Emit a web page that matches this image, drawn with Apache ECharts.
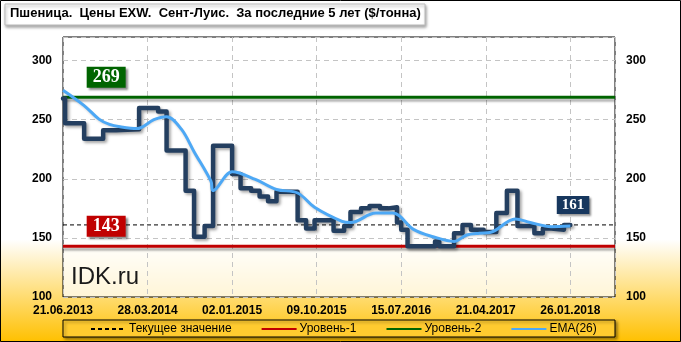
<!DOCTYPE html>
<html><head><meta charset="utf-8">
<script src="https://cdn.jsdelivr.net/npm/echarts@6/dist/echarts.min.js"></script>
<style>html,body{margin:0;padding:0;background:#fff}#c{width:681px;height:342px}</style>
</head><body><div id="c"></div>
<script>
const startDate = '2013-06-21';
const tickLabels = ['21.06.2013','28.03.2014','02.01.2015','09.10.2015','15.07.2016','21.04.2017','26.01.2018'];
const priceDates = ['2013-06-21','2013-06-28','2013-08-30','2013-11-01','2013-12-13','2014-02-28','2014-05-02','2014-05-30','2014-08-01','2014-08-29','2014-10-03','2014-10-31','2015-01-02','2015-01-30','2015-03-06','2015-04-03','2015-05-01','2015-05-29','2015-08-07','2015-09-04','2015-10-02','2015-12-04','2016-01-08','2016-01-29','2016-03-04','2016-04-01','2016-05-06','2016-06-03','2016-07-01','2016-07-15','2016-08-05','2016-11-04','2016-11-18','2017-01-06','2017-02-03','2017-03-03','2017-04-14','2017-05-26','2017-06-30','2017-08-04','2017-09-29','2017-10-27','2017-11-24','2018-01-05','2018-01-26'];
const prices = [268,247,234,241,242,260,257,224,190,151,160,228,204,192,190,185,181,189,165,158,165,156,160,172,175,177,175,176,163,157,143,147,143,154,161,157,155,171,190,160,154,158,157,161,161];
const emaDates = ['2013-06-21','2013-08-30','2013-10-18','2013-11-22','2013-12-27','2014-02-21','2014-04-18','2014-05-30','2014-07-18','2014-08-29','2014-10-24','2014-10-31','2015-01-02','2015-03-20','2015-05-29','2015-08-07','2015-10-02','2016-01-01','2016-01-29','2016-04-22','2016-06-17','2016-08-26','2016-10-28','2017-01-06','2017-02-17','2017-03-31','2017-05-05','2017-07-28','2017-09-15','2017-11-24','2018-01-26'];
const emaValues = [275,262,250.5,246,244,242.5,250,252.5,242,223,198,190,206,199.5,191,188,176,164,163,171,171,157,151,147,152.5,154,154.5,166,163,159.5,160];
const level1 = 143;
const level2 = 269;
const currentValue = 161;

const DAY = 86400000;
const dayOf = s => Math.round((Date.parse(s) - Date.parse(startDate)) / DAY);
const xMax = 1828;
const xStep = 280;

const priceData = priceDates.map((d, i) => [dayOf(d), prices[i]]);
const emaData = emaDates.map((d, i) => [dayOf(d), emaValues[i]]);
const flat = v => [[0, v], [xMax, v]];

const labelBox = (bg, size, pad) => ({
  show: true, position: 'inside', offset: [0, -20],
  color: '#fff', fontFamily: 'Liberation Serif', fontWeight: 'bold', fontSize: size,
  backgroundColor: bg, padding: pad,
  shadowColor: 'rgba(0,0,0,0.45)', shadowOffsetX: 2, shadowOffsetY: 2, shadowBlur: 2
});
const mp = (x, v, bg, size, pad) => ({
  symbol: 'rect', symbolSize: 1, silent: true,
  itemStyle: { color: 'rgba(0,0,0,0)' },
  label: labelBox(bg, size, pad),
  data: [{ coord: [x, v], value: v }]
});

const chart = echarts.init(document.getElementById('c'), null, { renderer: 'canvas' });
const axisFont = { fontFamily: 'Liberation Sans', fontWeight: 'bold', fontSize: 12, color: '#000' };
const yLbl = v => (v > 310 ? '' : String(v));
chart.setOption({
  animation: false,
  backgroundColor: { type: 'linear', x: 0, y: 0, x2: 0, y2: 1,
    colorStops: [{ offset: 0, color: '#ffffff' }, { offset: 0.7, color: '#ffffff' }, { offset: 1, color: '#FFC000' }] },
  grid: { left: 63, right: 66, top: 37, bottom: 45, show: true, borderColor: '#000', borderWidth: 1,
    backgroundColor: 'rgba(255,255,255,0.72)' },
  xAxis: {
    type: 'value', min: 0, max: xMax, interval: xStep,
    axisLine: { show: false }, axisTick: { show: false },
    axisLabel: Object.assign({ margin: 8, formatter: v => (v % xStep === 0 ? (tickLabels[v / xStep] || '') : '') }, axisFont),
    splitLine: { show: true, lineStyle: { color: '#C4C4C4', type: [5, 4], width: 1 } }
  },
  yAxis: [
    { type: 'value', min: 100, max: 320, interval: 50, position: 'left',
      axisLine: { show: false }, axisTick: { show: false },
      axisLabel: Object.assign({ margin: 11, formatter: yLbl }, axisFont),
      splitLine: { show: true, lineStyle: { color: '#C4C4C4', type: [5, 4], width: 1 } } },
    { type: 'value', min: 100, max: 320, interval: 50, position: 'right',
      axisLine: { show: false }, axisTick: { show: false },
      axisLabel: Object.assign({ margin: 11, formatter: yLbl }, axisFont),
      splitLine: { show: false } }
  ],
  legend: {
    left: 90, top: 323, padding: 0, itemWidth: 35, itemHeight: 10, itemGap: 29, z: 10,
    itemStyle: { opacity: 0 },
    textStyle: { fontFamily: 'Liberation Sans', fontSize: 12, color: '#000', padding: [0, 0, 0, -2] },
    data: ['Текущее значение', 'Уровень-1', 'Уровень-2', 'EMA(26)']
  },
  series: [
    { name: 'Уровень-1', type: 'line', data: flat(level1), symbol: 'none', z: 2,
      lineStyle: { color: '#C00000', width: 3, shadowColor: 'rgba(0,0,0,0.3)', shadowBlur: 2, shadowOffsetY: 3 },
      itemStyle: { color: '#C00000' },
      markPoint: mp(143, level1, '#C00000', 18, [2, 6, 1, 6]) },
    { name: 'Уровень-2', type: 'line', data: flat(level2), symbol: 'none', z: 2,
      lineStyle: { color: '#006400', width: 3, shadowColor: 'rgba(0,0,0,0.3)', shadowBlur: 2, shadowOffsetY: 3 },
      itemStyle: { color: '#006400' },
      markPoint: mp(143, level2, '#006400', 18, [2, 6, 1, 6]) },
    { name: 'Текущее значение', type: 'line', data: flat(currentValue), symbol: 'none', z: 2,
      lineStyle: { color: '#000', width: 1, type: [4, 3] },
      itemStyle: { color: '#000' },
      markPoint: mp(1689, currentValue, '#17375E', 15, [2, 5, 1, 5]) },
    { name: 'Цена', type: 'line', data: priceData, step: 'end', symbol: 'none', z: 3,
      lineStyle: { color: '#243F60', width: 4.5, join: 'round', cap: 'round',
        shadowColor: 'rgba(0,0,0,0.35)', shadowBlur: 3, shadowOffsetX: 2, shadowOffsetY: 2 },
      itemStyle: { color: '#243F60' } },
    { name: 'EMA(26)', type: 'line', data: emaData, smooth: 0.35, symbol: 'none', z: 4,
      lineStyle: { color: '#4DA8F5', width: 3, shadowColor: 'rgba(0,0,0,0.15)', shadowBlur: 2, shadowOffsetY: 1 },
      itemStyle: { color: '#4DA8F5' } }
  ],
  graphic: [
    { type: 'rect', z: 0, silent: true, shape: { x: 63, y: 320, width: 552, height: 17 },
      style: { fill: '#FFCB30', stroke: '#000', lineWidth: 1, shadowColor: 'rgba(0,0,0,0.4)', shadowBlur: 3, shadowOffsetX: 2, shadowOffsetY: 2 } },
    { type: 'rect', z: 0, silent: true, shape: { x: 5, y: 4, width: 420, height: 21 },
      style: { fill: '#fff', stroke: '#BBBBBB', lineWidth: 1, shadowColor: 'rgba(0,0,0,0.35)', shadowBlur: 3, shadowOffsetX: 1, shadowOffsetY: 2 } },
    { type: 'text', z: 1, silent: true, left: 10, top: 7,
      style: { text: 'Пшеница.  Цены EXW.  Сент-Луис.  За последние 5 лет ($/тонна)', fill: '#000',
        font: 'bold 13px "Liberation Sans"' } },
    { type: 'text', z: 5, silent: true, left: 71, top: 265,
      style: { text: 'IDK.ru', fill: '#1a1a1a', font: '24px "Liberation Sans"' } },
    { type: 'rect', z: 20, silent: true, shape: { x: 0.5, y: 0.5, width: 680, height: 341 },
      style: { fill: 'none', stroke: '#000', lineWidth: 1 } }
  ]
});
</script></body></html>
